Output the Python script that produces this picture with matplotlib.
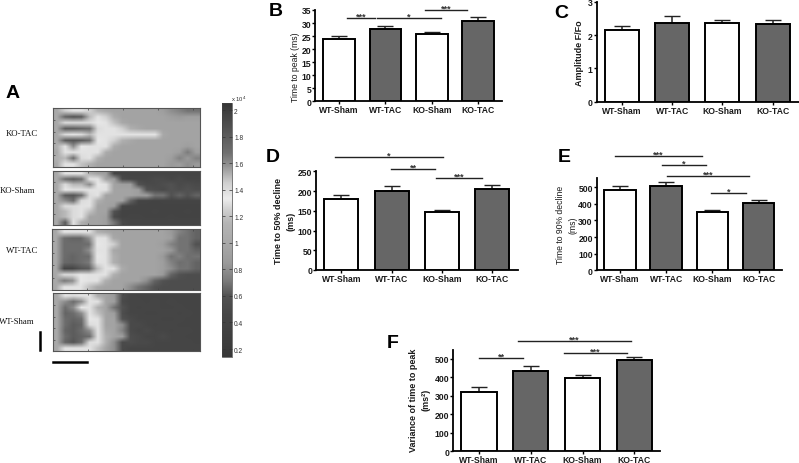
import matplotlib
matplotlib.use("Agg")
import matplotlib.pyplot as plt
from matplotlib.colors import LinearSegmentedColormap, Normalize
from matplotlib.cm import ScalarMappable
from matplotlib.lines import Line2D

groups = ["WT-Sham", "WT-TAC", "KO-Sham", "KO-TAC"]
bar_colors = ["white", "#666666", "white", "#666666"]

peak_mean = [23.8, 27.7, 25.8, 30.8]
peak_err = [1.2, 1.0, 0.8, 1.5]
amp_mean = [2.16, 2.37, 2.35, 2.34]
amp_err = [0.11, 0.20, 0.10, 0.11]
d50_mean = [180, 200, 146, 204]
d50_err = [10, 13, 6, 11]
d90_mean = [483, 510, 354, 408]
d90_err = [22, 20, 11, 14]
var_mean = [323, 436, 397, 495]
var_err = [25, 24, 16, 18]

ko_tac = [
 [1.0,1.25,1.3,1.3,1.25,1.1,1.0,.95,.95,.95,.95,.95,.95,.9,.8,.75,.7,.7],
 [1.0,1.75,1.85,1.8,1.5,1.3,1.25,1.05,.95,.95,.95,.95,.95,.95,.9,.85,.9,.9],
 [1.0,1.4,1.4,1.4,1.4,1.35,1.3,1.2,1.0,.95,.95,.95,.95,.95,.95,.95,.95,.95],
 [1.0,1.8,1.8,1.75,1.7,1.4,1.3,1.3,1.25,1.1,1.0,.95,.95,.95,.95,.95,.95,.95],
 [1.0,1.4,1.3,1.4,1.5,1.3,1.3,1.3,1.3,1.3,1.3,1.3,1.3,1.0,.95,.95,.95,.95],
 [1.0,1.8,1.85,1.8,1.7,1.35,1.3,1.25,1.1,1.0,.95,.95,.95,.95,.95,.95,.95,.95],
 [1.1,1.3,1.6,1.35,1.3,1.3,1.3,1.05,.95,.95,.95,.95,.95,.95,.95,.95,.9,.95],
 [1.0,1.3,1.3,1.3,1.3,1.3,1.05,.95,.95,.95,.95,.95,.95,.95,.95,.9,.72,.9],
 [1.1,1.5,1.7,1.4,1.3,1.1,.95,.95,.95,.95,.95,.95,.95,.95,.9,.75,.85,.75],
 [1.0,1.3,1.3,1.2,1.1,.95,.95,.95,.95,.95,.95,.95,.95,.95,.85,.9,.8,.85],
]
ko_sham = [
 [1.0,1.3,1.3,1.3,1.1,.95,.9,.45,.42,.42,.42,.42,.42,.42,.42,.42,.42,.42],
 [1.0,1.7,1.8,1.7,1.3,1.3,.95,.9,.5,.45,.45,.45,.5,.5,.45,.5,.45,.45],
 [1.0,1.4,1.5,1.5,1.6,1.35,1.3,.95,.9,.9,.6,.5,.5,.55,.6,.5,.55,.5],
 [1.0,1.35,1.3,1.3,1.3,1.3,1.3,.95,.95,.95,.9,.6,.55,.5,.6,.55,.6,.55],
 [1.0,1.8,1.85,1.7,1.4,1.3,.95,.95,.95,.95,.9,.9,.7,.7,.6,.65,.6,.65],
 [1.0,1.6,1.7,1.4,1.3,1.1,.95,.95,.95,.65,.42,.42,.4,.42,.42,.42,.42,.42],
 [1.0,1.4,1.4,1.3,1.3,.95,.95,.9,.45,.42,.4,.4,.4,.4,.4,.4,.4,.4],
 [1.0,1.5,1.4,1.3,1.2,.95,.95,.6,.4,.4,.4,.4,.42,.4,.4,.4,.42,.4],
 [1.0,1.5,1.4,1.3,.95,.95,.9,.5,.4,.42,.42,.4,.4,.4,.42,.4,.4,.4],
 [1.0,1.8,1.3,1.1,.95,.95,.9,.7,.5,.45,.45,.45,.45,.45,.45,.45,.45,.45],
]
wt_tac = [
 [1.0,1.3,1.3,1.3,1.3,1.1,1.0,.95,.95,.95,.95,.95,.95,.95,.85,.75,.7,.65],
 [1.0,1.7,1.75,1.75,1.6,1.3,1.3,1.0,.95,.95,.95,.95,.95,.95,.9,.7,.7,.65],
 [1.0,1.7,1.7,1.7,1.7,1.35,1.3,1.25,.95,.95,.95,.95,.95,.9,.75,.7,.7,.6],
 [1.0,1.7,1.7,1.7,1.6,1.3,1.3,1.0,.95,.95,.95,.95,.95,.95,.85,.7,.7,.65],
 [1.0,1.7,1.75,1.7,1.7,1.35,1.3,1.1,.95,.95,.95,.95,.95,.85,.7,.75,.68,.7],
 [1.0,1.72,1.75,1.7,1.65,1.3,1.3,1.1,.95,.95,.95,.95,.95,.9,.75,.68,.7,.65],
 [1.0,1.95,1.95,1.85,1.8,1.5,1.3,1.3,1.05,.95,.95,.95,.95,.9,.8,.7,.7,.65],
 [1.0,1.4,1.4,1.35,1.3,1.3,1.3,1.1,.95,.95,.95,.95,.95,.85,.65,.6,.55,.55],
 [1.0,1.65,1.6,1.35,1.3,1.3,1.1,.95,.95,.95,.95,.8,.65,.6,.55,.55,.55,.55],
 [1.0,1.3,1.3,1.3,1.2,1.0,.95,.95,.95,.8,.7,.65,.6,.55,.55,.55,.55,.55],
]
wt_sham = [
 [1.0,1.3,1.4,1.3,1.3,1.05,.95,.85,.55,.45,.42,.42,.42,.42,.42,.42,.42,.42],
 [1.0,1.6,1.7,1.6,1.3,1.3,.95,.9,.5,.45,.45,.42,.45,.42,.45,.42,.42,.42],
 [1.0,1.7,1.6,1.35,1.3,1.1,.95,.7,.6,.45,.42,.45,.45,.42,.42,.45,.42,.42],
 [1.0,1.75,1.7,1.6,1.3,1.2,.95,.9,.55,.45,.45,.42,.42,.45,.45,.42,.45,.42],
 [1.0,1.7,1.75,1.7,1.35,1.3,.95,.95,.6,.5,.45,.45,.45,.42,.42,.45,.42,.42],
 [1.0,1.7,1.8,1.75,1.4,1.3,.95,.95,.8,.5,.5,.45,.42,.45,.45,.42,.42,.42],
 [1.0,1.75,1.8,1.7,1.6,1.3,1.0,.95,.75,.5,.45,.5,.45,.45,.42,.45,.45,.42],
 [1.0,1.7,1.8,1.75,1.7,1.3,1.1,.95,.9,.55,.5,.45,.45,.5,.45,.45,.42,.42],
 [1.0,1.75,1.85,1.7,1.4,1.3,1.1,.8,.5,.55,.5,.5,.45,.45,.45,.45,.45,.42],
 [1.0,1.3,1.3,1.3,1.3,1.2,.95,.8,.5,.45,.45,.45,.45,.45,.45,.45,.45,.45],
]
heat_names = ["KO-TAC", "KO-Sham", "WT-TAC", "WT-Sham"]
heat_grids = [ko_tac, ko_sham, wt_tac, wt_sham]

W, H = 799, 464
plt.rcParams["font.family"] = ["Liberation Sans", "DejaVu Sans"]
fig = plt.figure(figsize=(W / 100, H / 100), dpi=100, facecolor="white")

def axpx(l, t, r, b):
    return fig.add_axes([l / W, 1 - b / H, (r - l) / W, (b - t) / H])

def put(x, y, s, **kw):
    kw.setdefault("ha", "center")
    kw.setdefault("va", "center")
    fig.text(x / W, 1 - y / H, s, **kw)

def sig(x0, x1, y, label):
    fig.add_artist(Line2D([x0 / W, x1 / W], [1 - y / H, 1 - y / H], color="#222222", lw=1.0))
    put((x0 + x1) / 2, y - 2.0, label, fontsize=6.5, fontweight="bold", color="#333333")

def panel(box, first, step, width, ymax, ticks, mean, err):
    l, t, r, b = box
    ax = axpx(l, t, r, b)
    xs = range(len(mean))
    ax.set_xlim((l - first) / step, (r - first) / step)
    ax.set_ylim(0, ymax)
    ax.bar(xs, mean, width=width / step, color=bar_colors, edgecolor="black", linewidth=1.4, zorder=3)
    ax.errorbar(xs, mean, yerr=[[0] * len(err), err], fmt="none", ecolor="#222222",
                elinewidth=1.1, capsize=6, capthick=1.0, zorder=2)
    ax.spines[["top", "right"]].set_visible(False)
    ax.spines[["left", "bottom"]].set_linewidth(1.3)
    ax.patch.set_alpha(0)
    ax.set_yticks(ticks)
    ax.set_xticks(list(xs), groups)
    ax.tick_params(axis="both", length=2, width=1.0, pad=0.8, labelsize=6.2)
    for lab in ax.get_xticklabels() + ax.get_yticklabels():
        lab.set_fontweight("bold")
        lab.set_color("#1a1a1a")
    return ax

panel((315, 11, 502, 102.3), 339, 46.4, 31.5, 35, range(0, 36, 5), peak_mean, peak_err)
panel((596.7, 2.7, 799, 102.7), 622, 50.2, 34, 3, [0, 1, 2, 3], amp_mean, amp_err)
panel((316, 172.3, 518, 271), 341.3, 50.2, 34, 250, range(0, 251, 50), d50_mean, d50_err)
panel((596.7, 179.3, 782, 271.3), 620, 46.2, 31.7, 554, range(0, 501, 100), d90_mean, d90_err)
panel((453.3, 350.7, 660, 452.3), 479, 51.8, 35.3, 550, range(0, 501, 100), var_mean, var_err)

put(296, 67, "Time to peak (ms)", rotation=90, fontsize=6.2, color="#1a1a1a")
put(579, 53, "Amplitude F/Fo", rotation=90, fontsize=6.5, fontweight="bold", color="#1a1a1a")
put(285, 221, "Time to 50% decline\n(ms)", rotation=90, fontsize=6.5, fontweight="bold",
    color="#1a1a1a", linespacing=1.5)
put(567, 225, "Time to 90% decline\n(ms)", rotation=90, fontsize=6.2, color="#1a1a1a", linespacing=1.5)
put(419.5, 400, "Variance of time to peak\n(ms²)", rotation=90, fontsize=6.5, fontweight="bold",
    color="#1a1a1a", linespacing=1.5)

for args in [(346.7, 375, 19.3, "***"), (377.3, 440.7, 19, "*"), (424.7, 467.3, 10.7, "***"),
             (335.3, 442.7, 158.3, "*"), (391.3, 434.7, 170, "**"), (436, 482, 178.7, "***"),
             (615.3, 701.7, 156.7, "***"), (661.7, 706, 166, "*"), (666.7, 748.7, 177.3, "***"),
             (711.3, 745.7, 194.3, "*"), (479.3, 522.7, 358.7, "**"), (517.7, 631, 341.7, "***"),
             (564, 627.3, 354.3, "***")]:
    sig(*args)

for letter, x, y in [("A", 13, 93), ("B", 275.5, 12), ("C", 561, 14), ("D", 273, 157),
                     ("E", 564, 157), ("F", 393, 344)]:
    put(x, y, letter, fontsize=14, fontweight="bold", color="black")

vmin, vmax = 0.14, 2.053
stops = [(0.14, "#383838"), (0.45, "#464646"), (0.6, "#525252"), (0.72, "#7c7c7c"), (0.85, "#9a9a9a"),
         (1.0, "#a8a8a8"), (1.15, "#b4b4b4"), (1.25, "#d0d0d0"), (1.33, "#ececec"), (1.45, "#cfcfcf"),
         (1.55, "#a0a0a0"), (1.68, "#707070"), (1.85, "#555555"), (2.053, "#363636")]
cmap = LinearSegmentedColormap.from_list(
    "trace", [((v - vmin) / (vmax - vmin), c) for v, c in stops])
norm = Normalize(vmin, vmax)

boxes = [(53, 109, 200, 168), (53, 171.7, 200, 225.7), (52, 229.7, 200, 290.7), (53, 294.3, 200, 352.3)]
labels_at = [(22, 134), (17, 191), (22.5, 251), (17, 322)]
for name, grid, box, lab in zip(heat_names, heat_grids, boxes, labels_at):
    ax = axpx(*box)
    ax.imshow(grid, cmap=cmap, norm=norm, aspect="auto", interpolation="bilinear",
              interpolation_stage="rgba")
    ax.set_xticks([3.8, 8.1, 12.4, 16.7], [])
    ax.set_yticks([1.5, 3.5, 5.5, 7.5], [])
    ax.tick_params(direction="in", length=1.5, width=0.5, color="#444444", top=True)
    for s in ax.spines.values():
        s.set_color("#555555")
        s.set_linewidth(0.8)
    put(lab[0], lab[1], name, fontsize=6.3, family=["Liberation Serif"], color="#111111")

cax = axpx(222, 104, 232, 358)
cb = fig.colorbar(ScalarMappable(norm=norm, cmap=cmap), cax=cax)
cb.set_ticks([0.2, 0.4, 0.6, 0.8, 1, 1.2, 1.4, 1.6, 1.8, 2], labels=["0.2", "0.4", "0.6", "0.8", "1", "1.2", "1.4", "1.6", "1.8", "2"])
cax.tick_params(direction="in", length=2, width=0.5, color="#333333", labelsize=4.8,
                labelcolor="#333333", pad=1.5, left=True)
cb.outline.set_edgecolor("#444444")
cb.outline.set_linewidth(0.5)
put(239, 99, "x 10$^{4}$", fontsize=4.2, color="#333333")

fig.add_artist(Line2D([40 / W, 40 / W], [1 - 333 / H, 1 - 350.7 / H], color="black", lw=1.8))
fig.add_artist(Line2D([53 / W, 87 / W], [1 - 363 / H, 1 - 363 / H], color="black", lw=1.8))

fig.savefig("out.png", dpi=100, facecolor="white")
